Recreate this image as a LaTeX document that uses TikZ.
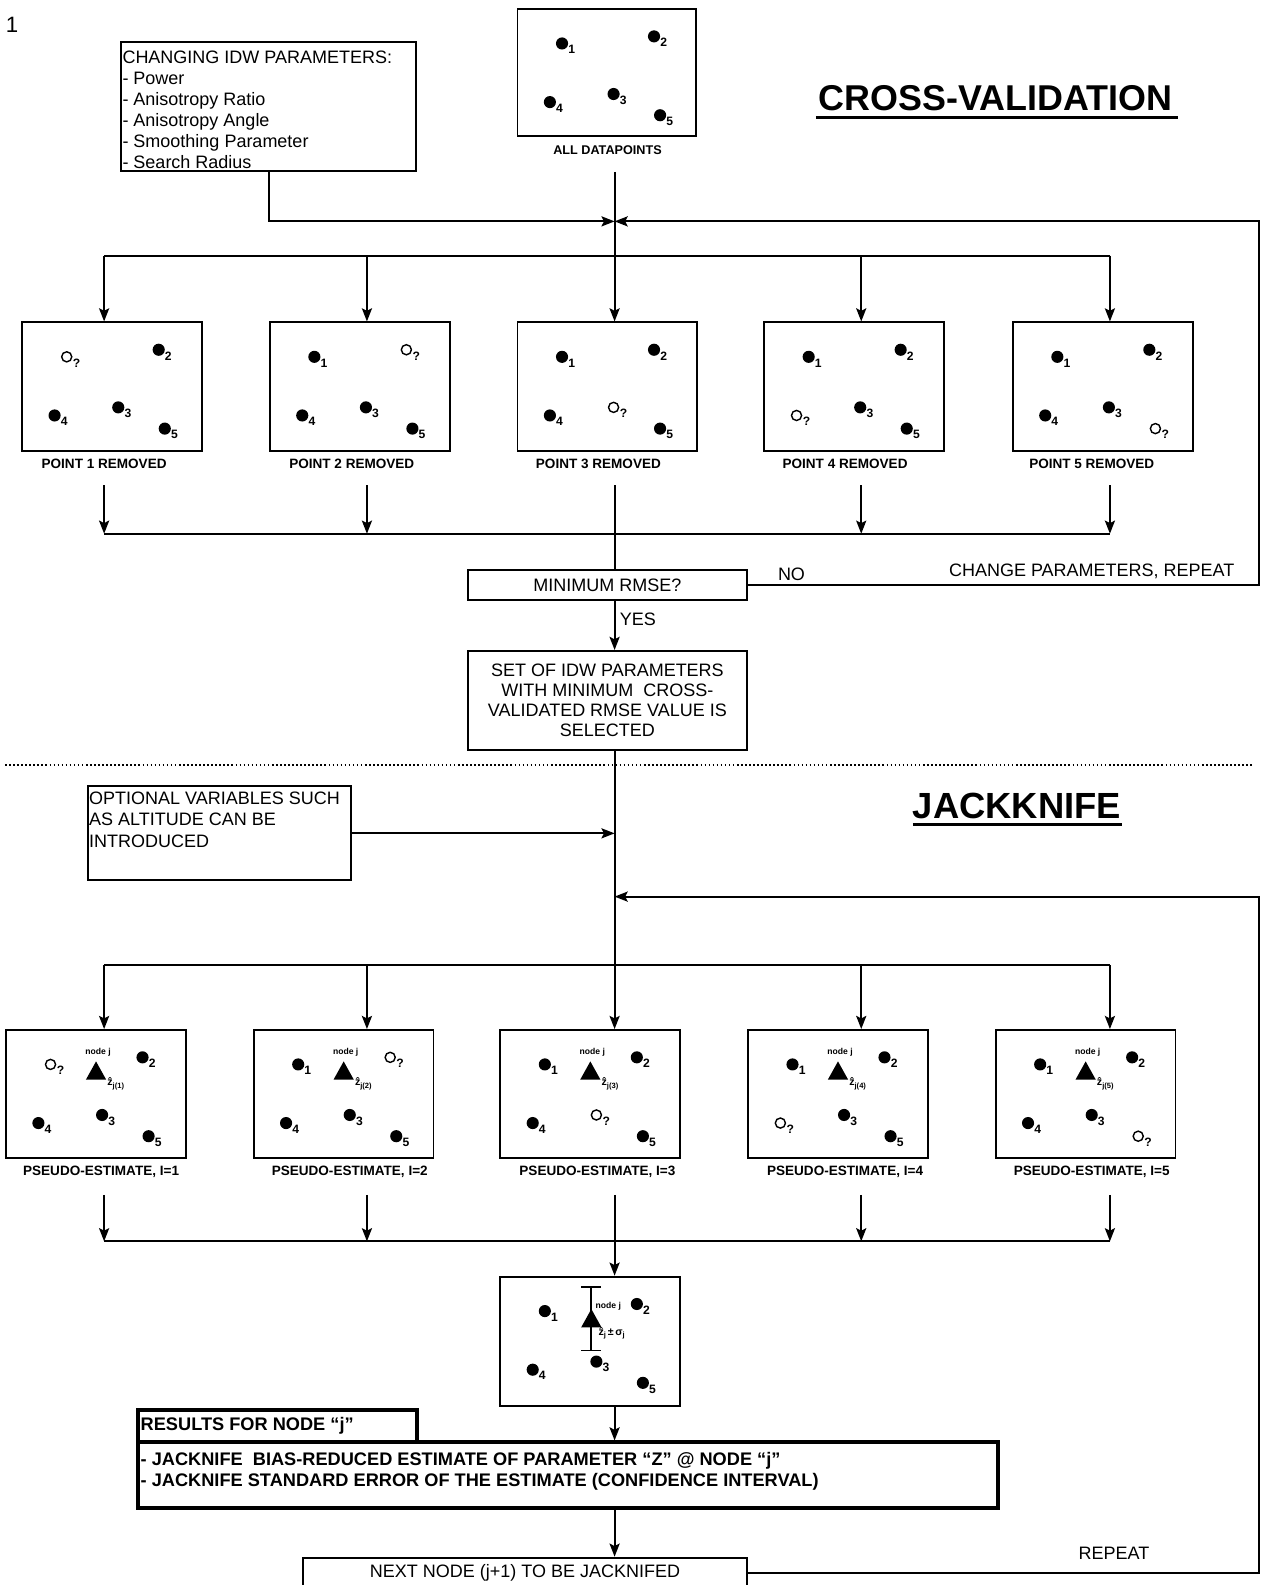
\documentclass[tikz,border=0pt]{standalone}
\usepackage{fontspec}
\setmainfont{Liberation Sans}
\usetikzlibrary{arrows.meta,calc}
\newcommand\fs[2]{\fontsize{#1}{#2}\selectfont}
\newcommand\zj[1]{ẑ\raisebox{-2.5pt}{\fs{7.5}{7.5}#1}}
\tikzset{
 wire/.style={line width=1.8pt},
 arr/.style={wire,-{Stealth[length=13pt,width=10pt,inset=2.5pt]}},
 frame/.style={draw,line width=1.8pt,anchor=north west,inner sep=0pt},
 heavy/.style={draw,line width=3.8pt,anchor=north west,inner sep=0pt},
 body/.style={font=\fs{17.8}{20},inner sep=0pt},
 bbody/.style={font=\bfseries\fs{18}{21},inner sep=0pt},
 capt/.style={font=\bfseries\fs{13.4}{14},inner sep=0pt},
 sub/.style={font=\bfseries\fs{12}{12},inner sep=0pt},
 tinyl/.style={font=\bfseries\fs{8.5}{8.5},inner sep=0pt},
 zlab/.style={font=\bfseries\fs{10.5}{10.5},inner sep=0pt},
 title/.style={font=\bfseries\fs{35.5}{38},inner sep=0pt},
 ul/.style={line width=3pt},
 sbox/.style={frame,minimum width=178pt,minimum height=127pt},
}
% points in a sample box: #1 box name, #2 missing index (0 = none)
\newcommand\pts[2]{%
 \foreach \i/\dx/\dy in {1/45/35,2/136/28,3/96/85,4/33/93,5/142/106}{%
   \ifnum\i=#2\relax
     \draw[line width=1.4pt] ([shift={(\dx,\dy)}]#1.north west) circle (5);
     \node[sub,anchor=west] (#1-\i) at ([shift={(\dx+6,\dy+6)}]#1.north west) {?};
   \else
     \fill ([shift={(\dx,\dy)}]#1.north west) circle (6);
     \node[sub,anchor=west] (#1-\i) at ([shift={(\dx+6,\dy+6)}]#1.north west) {\i};
   \fi}}
% node j estimate mark: #1 box, #2 label
\newcommand\jmark[2]{%
  \fill ([shift={(90,32)}]#1.north west) -- ([shift={(80,50)}]#1.north west) -- ([shift={(100,50)}]#1.north west) -- cycle;
  \node[tinyl] (#1-nj) at ([shift={(92,23)}]#1.north west) {node j};
  \node[zlab,anchor=west] (#1-z) at ([shift={(101,54)}]#1.north west) {#2};}
\begin{document}
\begin{tikzpicture}[x=1pt,y=-1pt]
\clip (0,0) rectangle (1248,1568);
\fill[white] (0,0) rectangle (1248,1568);

\node[font=\fs{22}{24},inner sep=0pt] (pagenum) at (12,25) {1};

% titles
\node[title] (cv) at (985,97) {CROSS-VALIDATION};
\draw[ul] (807,116) -- (1165,116);
\node[title,font=\bfseries\fs{36}{38}] (jk) at (1006,797) {JACKKNIFE};
\draw[ul] (903,816) -- (1110,816);

% parameter box
\node[frame,minimum width=292pt,minimum height=127pt] (params) at (119,41) {};
\node[body,anchor=north west,align=left,font=\fs{17.8}{20.8}] (paramtxt) at (121,50.5)
 {CHANGING IDW PARAMETERS:\\- Power\\- Anisotropy Ratio\\- Anisotropy Angle\\- Smoothing Parameter\\- Search Radius};

% all datapoints
\node[frame,minimum width=177pt,minimum height=126pt] (top) at (511,8) {};
\pts{top}{0}
\node[capt,font=\bfseries\fs{12.5}{14}] (alldp) at (601,149) {ALL DATAPOINTS};

% removed boxes
\node[sbox] (rm1) at (21,318) {};
\node[sbox] (rm2) at (266,318) {};
\node[sbox] (rm3) at (511,318) {};
\node[sbox] (rm4) at (755,318) {};
\node[sbox] (rm5) at (1001,318) {};
\pts{rm1}{1}\pts{rm2}{2}\pts{rm3}{3}\pts{rm4}{4}\pts{rm5}{5}
\node[capt] (rl1) at (103,459) {POINT 1 REMOVED};
\node[capt] (rl2) at (348,459) {POINT 2 REMOVED};
\node[capt] (rl3) at (592,459) {POINT 3 REMOVED};
\node[capt] (rl4) at (836,459) {POINT 4 REMOVED};
\node[capt] (rl5) at (1080,459) {POINT 5 REMOVED};

% decision
\node[frame,body,minimum width=276pt,minimum height=30pt] (minr) at (462,563) {MINIMUM RMSE?};
\node[body] (no) at (783,568) {NO};
\node[body] (chg) at (1080,565) {CHANGE PARAMETERS, REPEAT};
\node[body,anchor=west] (yes) at (613,613) {YES};
\node[frame,body,align=center,minimum width=276pt,minimum height=98pt] (sel) at (462,643)
 {SET OF IDW PARAMETERS\\WITH MINIMUM\ \ CROSS-\\VALIDATED RMSE VALUE IS\\SELECTED};

% separator
\draw[line width=1.6pt,dash pattern=on 1.6pt off 2.4pt] (5,757) -- (1240,757);

% optional box
\node[frame,minimum width=260pt,minimum height=93pt] (opt) at (86,777) {};
\node[body,anchor=north west,align=left,font=\fs{17.8}{21}] (opttxt) at (88,783.5)
 {OPTIONAL VARIABLES SUCH\\AS ALTITUDE CAN BE\\INTRODUCED};

% jackknife boxes
\node[sbox] (jk1) at (5,1018) {};
\node[sbox] (jk2) at (250,1018) {};
\node[sbox] (jk3) at (494,1018) {};
\node[sbox] (jk4) at (739,1018) {};
\node[sbox] (jk5) at (984,1018) {};
\pts{jk1}{1}\pts{jk2}{2}\pts{jk3}{3}\pts{jk4}{4}\pts{jk5}{5}
\jmark{jk1}{\zj{j(1)}}\jmark{jk2}{\zj{j(2)}}\jmark{jk3}{\zj{j(3)}}
\jmark{jk4}{\zj{j(4)}}\jmark{jk5}{\zj{j(5)}}
\node[capt] (jl1) at (100,1159) {PSEUDO-ESTIMATE, I=1};
\node[capt] (jl2) at (346,1159) {PSEUDO-ESTIMATE, I=2};
\node[capt] (jl3) at (591,1159) {PSEUDO-ESTIMATE, I=3};
\node[capt] (jl4) at (836,1159) {PSEUDO-ESTIMATE, I=4};
\node[capt] (jl5) at (1080,1159) {PSEUDO-ESTIMATE, I=5};

% summary box
\node[frame,minimum width=178pt,minimum height=128pt] (sum) at (494,1262) {};
\pts{sum}{0}
\draw[line width=1.8pt] ([shift={(91,11)}]sum.north west) -- ([shift={(91,74)}]sum.north west);
\draw[line width=1.8pt] ([shift={(81,11)}]sum.north west) -- ([shift={(101,11)}]sum.north west);
\draw[line width=1.8pt] ([shift={(81,74)}]sum.north west) -- ([shift={(101,74)}]sum.north west);
\fill ([shift={(91,33)}]sum.north west) -- ([shift={(81,51)}]sum.north west) -- ([shift={(101,51)}]sum.north west) -- cycle;
\node[tinyl,anchor=west] (sum-nj) at ([shift={(95,30)}]sum.north west) {node j};
\node[zlab,anchor=west] (sum-z) at ([shift={(98,57)}]sum.north west) {\zj{j}\,±\,σ\raisebox{-2.5pt}{\fs{7.5}{7.5}j}};

% results
\node[heavy,minimum width=276pt,minimum height=32pt] (reshead) at (135,1393) {};
\node[bbody,anchor=west] (reshtxt) at (139,1410) {RESULTS FOR NODE “j”};
\node[heavy,minimum width=850pt,minimum height=65pt] (res) at (135,1425) {};
\node[bbody,anchor=north west,align=left] (restxt) at (139,1436.5)
 {- JACKNIFE\ \ BIAS-REDUCED ESTIMATE OF PARAMETER “Z” @ NODE “j”\\- JACKNIFE STANDARD ERROR OF THE ESTIMATE (CONFIDENCE INTERVAL)};

% next node
\node[frame,body,minimum width=439pt,minimum height=30pt] (next) at (299,1540) {NEXT NODE (j+1) TO BE JACKNIFED};
\node[body] (rep) at (1102,1537) {REPEAT};

% ---- connectors ----
\coordinate (J1) at (608,219);
\coordinate (c0) at (608,170);
\draw[arr] (params.south) |- (J1);
\draw[arr] (minr.east) -- ++(506,0) |- (J1);
\draw[arr] (c0) -- (c0 |- rm3.north);
\foreach \k/\x in {1/103,2/363,3/608,4/852,5/1098}{
  \coordinate (b\k) at (\x,253);
  \coordinate (u\k) at (\x,480);
  \coordinate (d\k) at (\x,528);
  \coordinate (e\k) at (\x,955);
  \coordinate (v\k) at (\x,1182);
  \coordinate (w\k) at (\x,1228);}
\draw[wire] (b1) -- (b5);
\draw[wire] (d1) -- (d5);
\draw[wire] (e1) -- (e5);
\draw[wire] (w1) -- (w5);
\foreach \k in {1,2,4,5}{
  \draw[arr] (b\k) -- (b\k |- rm\k.north);
  \draw[arr] (u\k) -- (d\k);
  \draw[arr] (e\k) -- (e\k |- jk\k.north);
  \draw[arr] (v\k) -- (w\k);}
\draw[wire] (u3) -- (u3 |- minr.north);
\draw[arr] (u3 |- minr.south) -- (u3 |- sel.north);
\draw[arr] (u3 |- sel.south) -- (u3 |- jk3.north);
\draw[arr] (opt.east) -- (opt.east -| u3);
\coordinate (J2) at (608,887);
\draw[arr] (next.east) -- ++(506,0) |- (J2);
\draw[arr] (v3) -- (v3 |- sum.north);
\draw[arr] (v3 |- sum.south) -- (v3 |- res.north);
\draw[arr] (v3 |- res.south) -- (v3 |- next.north);
\end{tikzpicture}
\end{document}
